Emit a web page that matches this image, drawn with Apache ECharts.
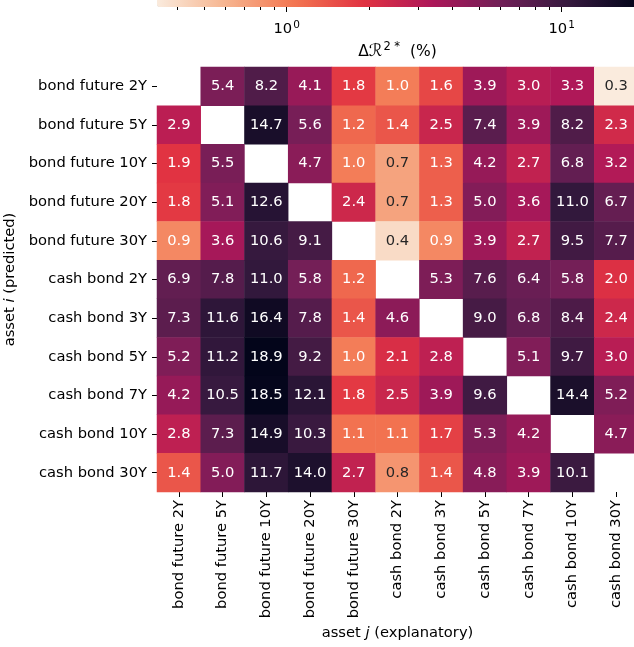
<!DOCTYPE html>
<html>
<head>
<meta charset="utf-8">
<script src="https://cdn.jsdelivr.net/npm/echarts@6/dist/echarts.min.js"></script>
<style>
html,body{margin:0;padding:0;background:#fff;}
#chart{width:634px;height:647px;}
</style>
</head>
<body>
<div id="chart"></div>
<script>
// ---- data ----
const assets = ['bond future 2Y','bond future 5Y','bond future 10Y','bond future 20Y','bond future 30Y',
  'cash bond 2Y','cash bond 3Y','cash bond 5Y','cash bond 7Y','cash bond 10Y','cash bond 30Y'];
// each row: predicted asset i; columns: explanatory asset j (null = diagonal)
const rowBondFuture2Y  = [null, 5.4, 8.2, 4.1, 1.8, 1.0, 1.6, 3.9, 3.0, 3.3, 0.3];
const rowBondFuture5Y  = [2.9, null, 14.7, 5.6, 1.2, 1.4, 2.5, 7.4, 3.9, 8.2, 2.3];
const rowBondFuture10Y = [1.9, 5.5, null, 4.7, 1.0, 0.7, 1.3, 4.2, 2.7, 6.8, 3.2];
const rowBondFuture20Y = [1.8, 5.1, 12.6, null, 2.4, 0.7, 1.3, 5.0, 3.6, 11.0, 6.7];
const rowBondFuture30Y = [0.9, 3.6, 10.6, 9.1, null, 0.4, 0.9, 3.9, 2.7, 9.5, 7.7];
const rowCashBond2Y    = [6.9, 7.8, 11.0, 5.8, 1.2, null, 5.3, 7.6, 6.4, 5.8, 2.0];
const rowCashBond3Y    = [7.3, 11.6, 16.4, 7.8, 1.4, 4.6, null, 9.0, 6.8, 8.4, 2.4];
const rowCashBond5Y    = [5.2, 11.2, 18.9, 9.2, 1.0, 2.1, 2.8, null, 5.1, 9.7, 3.0];
const rowCashBond7Y    = [4.2, 10.5, 18.5, 12.1, 1.8, 2.5, 3.9, 9.6, null, 14.4, 5.2];
const rowCashBond10Y   = [2.8, 7.3, 14.9, 10.3, 1.1, 1.1, 1.7, 5.3, 4.2, null, 4.7];
const rowCashBond30Y   = [1.4, 5.0, 11.7, 14.0, 2.7, 0.8, 1.4, 4.8, 3.9, 10.1, null];
const rows = [rowBondFuture2Y,rowBondFuture5Y,rowBondFuture10Y,rowBondFuture20Y,rowBondFuture30Y,
  rowCashBond2Y,rowCashBond3Y,rowCashBond5Y,rowCashBond7Y,rowCashBond10Y,rowCashBond30Y];

// colour bar (log scale)
const cbMin = 0.3375, cbMax = 18.95;
const cbMajorTicks = [1, 10];
const cbMinorTicks = [0.4,0.5,0.6,0.7,0.8,0.9,2,3,4,5,6,7,8,9];
// reversed "rocket" palette
const rocketR = ['#faebdd','#f6b48f','#f37651','#e13342','#ad1759','#701f57','#35193e','#03051a'];

// ---- build ----
const L = Math.log10;
const lo = L(cbMin), hi = L(cbMax);
const data = [];
rows.forEach((r, i) => r.forEach((v, j) => {
  if (v === null) return;
  const lv = Math.min(hi, Math.max(lo, L(v)));
  data.push({ value: [j, i, lv, v], label: { color: v < 0.85 ? '#262626' : '#ffffff' } });
}));

const FONT = 'DejaVu Sans';
const FS = 14.7;
const chart = echarts.init(document.getElementById('chart'), null, { renderer: 'canvas' });
chart.setOption({
  animation: false,
  backgroundColor: '#ffffff',
  textStyle: { fontFamily: FONT },
  grid: [
    { left: 157, width: 481, top: 67, height: 425, containLabel: false, outerBoundsMode: 'none' },
    { left: 157, width: 481, top: 6, height: 1, containLabel: false, outerBoundsMode: 'none' }
  ],
  xAxis: [
    {
      type: 'category', data: assets, gridIndex: 0, position: 'bottom',
      axisLine: { show: false },
      axisTick: { show: true, alignWithLabel: true, length: 5, lineStyle: { color: '#000', width: 1 } },
      axisLabel: { rotate: 90, fontSize: FS, color: '#000', fontFamily: FONT, margin: 8, interval: 0 },
      splitLine: { show: false },
      name: 'asset {it|j} (explanatory)', nameLocation: 'middle', nameGap: 134,
      nameTextStyle: { fontSize: FS, color: '#000', fontFamily: FONT, rich: { it: { fontStyle: 'italic', fontSize: FS, fontFamily: FONT } } }
    },
    {
      type: 'value', gridIndex: 1, min: lo, max: hi, position: 'bottom',
      axisLine: { show: false }, splitLine: { show: false },
      axisTick: { show: true, length: 3, customValues: cbMinorTicks.map(L), lineStyle: { color: '#000', width: 1 } },
      axisLabel: { show: false }
    },
    {
      type: 'value', gridIndex: 1, min: lo, max: hi, position: 'bottom',
      axisLine: { show: false }, splitLine: { show: false },
      axisTick: { show: true, length: 5, customValues: cbMajorTicks.map(L), lineStyle: { color: '#000', width: 1 } },
      axisLabel: {
        show: true, customValues: cbMajorTicks.map(L), margin: 13, color: '#000',
        formatter: v => '{b|10}{s|' + Math.round(v) + '}',
        rich: { b: { fontSize: FS, fontFamily: FONT, color: '#000' }, s: { fontSize: 10.5, fontFamily: FONT, color: '#000', padding: [0, 0, 8, 1] } }
      },
      name: '{a|Δ}{r|ℛ}{s|2 *}{a|  (%)}', nameLocation: 'middle', nameGap: 34,
      nameTextStyle: {
        color: '#000',
        rich: {
          a: { fontSize: 15.5, fontFamily: FONT, color: '#000' },
          r: { fontSize: 17, fontFamily: FONT, fontStyle: 'italic', color: '#000' },
          s: { fontSize: 11.5, fontFamily: FONT, color: '#000', padding: [0, 0, 9, 1] }
        }
      }
    }
  ],
  yAxis: [
    {
      type: 'category', data: assets, gridIndex: 0, inverse: true,
      axisLine: { show: false },
      axisTick: { show: true, alignWithLabel: true, length: 5, lineStyle: { color: '#000', width: 1 } },
      axisLabel: { fontSize: FS, color: '#000', fontFamily: FONT, margin: 10, interval: 0 },
      splitLine: { show: false },
      name: 'asset {it|i} (predicted)', nameLocation: 'middle', nameGap: 137,
      nameTextStyle: { fontSize: FS, color: '#000', fontFamily: FONT, rich: { it: { fontStyle: 'italic', fontSize: FS, fontFamily: FONT } } }
    },
    { type: 'value', gridIndex: 1, show: false, min: 0, max: 1 }
  ],
  visualMap: {
    type: 'continuous', seriesIndex: 0, dimension: 2,
    min: lo, max: hi, calculable: false, orient: 'horizontal',
    left: 157, top: -10, padding: 0,
    itemWidth: 17, itemHeight: 481,
    text: null, showLabel: false,
    inRange: { color: rocketR }
  },
  series: [{
    type: 'heatmap', xAxisIndex: 0, yAxisIndex: 0, data: data,
    label: {
      show: true, fontSize: FS, fontFamily: FONT,
      formatter: p => p.value[3].toFixed(1)
    },
    emphasis: { disabled: true },
    itemStyle: { borderWidth: 0 }
  }]
});
</script>
</body>
</html>
